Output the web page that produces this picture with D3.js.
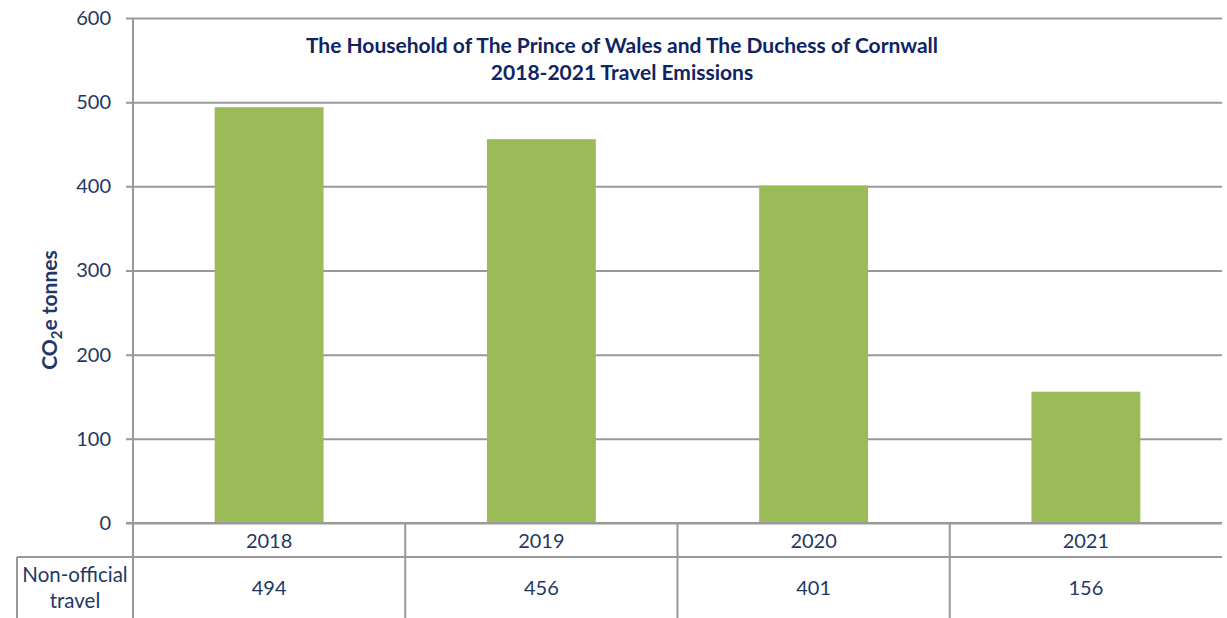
<!DOCTYPE html>
<html>
<head>
<meta charset="utf-8">
<script src="https://cdn.jsdelivr.net/npm/d3@7"></script>
<style>
  body { margin: 0; background: #fff; }
  text { font-family: Lato, "Open Sans", sans-serif; fill: #1f3864; }
</style>
</head>
<body>
<svg></svg>
<script>
"use strict";

var years = ['2018', '2019', '2020', '2021'];
var emissions = [494, 456, 401, 156];
var yTicks = [0, 100, 200, 300, 400, 500, 600];
var rowLabel = ['Non-official', 'travel'];
var titleLines = ['The Household of The Prince of Wales and The Duchess of Cornwall',
    '2018-2021 Travel Emissions'];

var settings = {
    width: 1227,
    height: 618,
    plot: { left: 133, right: 1222, top: 18, bottom: 523 },
    table: { left: 17, row1: 557, bottom: 618 },
    grid: { color: '#999', width: 2 },
    bar: { color: '#9bbb59', padding: 0.6 }
};

var svg = d3.select('svg')
    .attr('width', settings.width)
    .attr('height', settings.height);

var x = d3.scaleBand()
    .domain(years)
    .range([settings.plot.left, settings.plot.right])
    .paddingInner(0)
    .paddingOuter(0);

var xBar = d3.scaleBand()
    .domain(years)
    .range([settings.plot.left, settings.plot.right])
    .paddingInner(settings.bar.padding)
    .paddingOuter(settings.bar.padding / 2);

var y = d3.scaleLinear()
    .domain([0, 600])
    .range([settings.plot.bottom, settings.plot.top]);

// gridlines + ticks
var yAxis = d3.axisLeft(y)
    .tickValues(yTicks)
    .tickSize(-(settings.plot.right - settings.plot.left))
    .tickSizeOuter(0)
    .tickPadding(22);

var gy = svg.append('g')
    .attr('transform', `translate(${settings.plot.left},0)`)
    .call(yAxis);
gy.select('.domain').remove();
gy.selectAll('line')
    .attr('x1', -7)
    .attr('stroke', settings.grid.color)
    .attr('stroke-width', settings.grid.width);
gy.selectAll('text')
    .style('font-size', '20px')
    .style('font-family', 'Lato, "Open Sans", sans-serif')
    .attr('fill', '#1f3864');

// bars
svg.append('g')
    .selectAll('rect')
    .data(emissions)
    .enter()
    .append('rect')
    .attr('x', (d, i) => xBar(years[i]))
    .attr('y', d => y(d))
    .attr('width', xBar.bandwidth())
    .attr('height', d => y(0) - y(d))
    .attr('fill', settings.bar.color);

// redraw zero line over bars
svg.append('line')
    .attr('x1', settings.plot.left - 7).attr('x2', settings.plot.right)
    .attr('y1', y(0)).attr('y2', y(0))
    .attr('stroke', settings.grid.color)
    .attr('stroke-width', settings.grid.width);

// vertical axis line
svg.append('line')
    .attr('x1', settings.plot.left).attr('x2', settings.plot.left)
    .attr('y1', settings.plot.top).attr('y2', settings.table.bottom)
    .attr('stroke', settings.grid.color)
    .attr('stroke-width', settings.grid.width);

// data table
var table = svg.append('g').attr('class', 'data-table');

table.append('line')
    .attr('x1', settings.table.left).attr('x2', settings.plot.right)
    .attr('y1', settings.table.row1).attr('y2', settings.table.row1)
    .attr('stroke', settings.grid.color)
    .attr('stroke-width', settings.grid.width);

table.append('line')
    .attr('x1', settings.table.left).attr('x2', settings.table.left)
    .attr('y1', settings.table.row1).attr('y2', settings.table.bottom)
    .attr('stroke', settings.grid.color)
    .attr('stroke-width', settings.grid.width);

table.selectAll('.sep')
    .data(years.slice(1))
    .enter()
    .append('line')
    .attr('class', 'sep')
    .attr('x1', d => x(d)).attr('x2', d => x(d))
    .attr('y1', settings.plot.bottom).attr('y2', settings.table.bottom)
    .attr('stroke', settings.grid.color)
    .attr('stroke-width', settings.grid.width);

table.selectAll('.year')
    .data(years)
    .enter()
    .append('text')
    .attr('class', 'year')
    .attr('x', d => x(d) + x.bandwidth() / 2)
    .attr('y', 548)
    .attr('text-anchor', 'middle')
    .style('font-size', '20px')
    .text(d => d);

table.selectAll('.val')
    .data(emissions)
    .enter()
    .append('text')
    .attr('class', 'val')
    .attr('x', (d, i) => x(years[i]) + x.bandwidth() / 2)
    .attr('y', 595)
    .attr('text-anchor', 'middle')
    .style('font-size', '20px')
    .text(d => d);

table.selectAll('.rowlabel')
    .data(rowLabel)
    .enter()
    .append('text')
    .attr('class', 'rowlabel')
    .attr('x', (settings.table.left + settings.plot.left) / 2)
    .attr('y', (d, i) => 582 + i * 26)
    .attr('text-anchor', 'middle')
    .style('font-size', '20.5px')
    .text(d => d);

// title
svg.append('g')
    .selectAll('text')
    .data(titleLines)
    .enter()
    .append('text')
    .attr('x', 622)
    .attr('y', (d, i) => 53 + i * 27)
    .attr('text-anchor', 'middle')
    .style('font-size', '21px')
    .style('font-weight', 'bold')
    .style('fill', '#0f2463')
    .text(d => d);

// y label
var yl = svg.append('text')
    .attr('transform', 'translate(57,310) rotate(-90)')
    .attr('text-anchor', 'middle')
    .style('font-size', '21px')
    .style('font-weight', 'bold');
yl.append('tspan').text('CO');
yl.append('tspan').attr('dy', 5).style('font-size', '15px').text('2');
yl.append('tspan').attr('dy', -5).text('e tonnes');
</script>
</body>
</html>
